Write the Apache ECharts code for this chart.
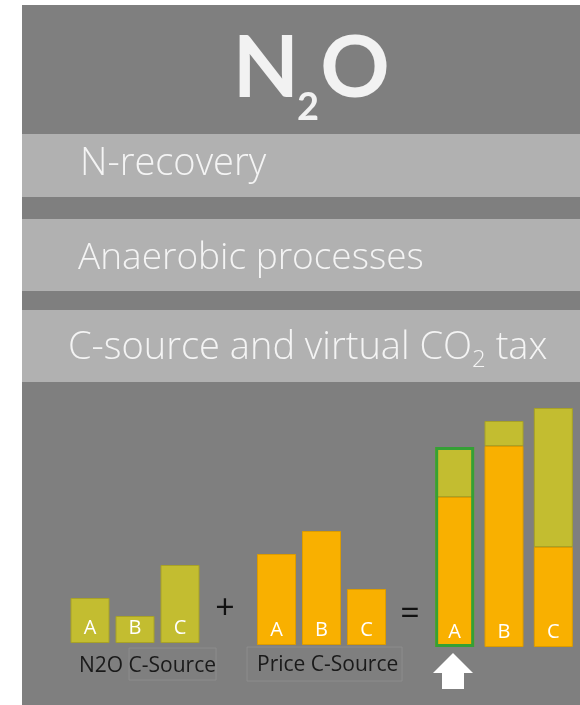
<!DOCTYPE html>
<html><head><meta charset="utf-8">
<script src="https://cdn.jsdelivr.net/npm/echarts@6/dist/echarts.min.js"></script>
<style>html,body{margin:0;padding:0;background:#fff}#c{width:580px;height:705px}</style>
</head><body><div id="c"></div>
<script>
// ---- data ----
var categories = ['A', 'B', 'C'];
var n2oCSource = [45, 27, 78];          // N2O C-Source
var priceCSource = [91, 114, 56];       // Price C-Source
var totalPricePart = [150, 201, 100];   // combined: price component
var totalN2OPart = [50, 25, 139];       // combined: N2O component
var bands = ['N-recovery', 'Anaerobic processes', 'C-source and virtual CO'];
var captions = ['N2O C-Source', 'Price C-Source'];
var highlighted = 0; // index of chosen option (A)

var OLIVE = '#c3bd30', OLIVE_B = '#a8a226';
var ORANGE = '#f9b000', ORANGE_B = '#dc9c00';
var LIGHT = "'Open Sans', 'Lato', sans-serif";

var chart = echarts.init(document.getElementById('c'), null, {renderer: 'canvas'});

function mkGrid(left, width, bottom) {
  return {left: left, width: width, bottom: bottom, height: 300, containLabel: false};
}
function xA(i) { return {type: 'category', gridIndex: i, data: categories, show: false, boundaryGap: true}; }
function yA(i) { return {type: 'value', gridIndex: i, min: 0, max: 300, show: false, splitLine: {show: false}}; }
var barLabel = {show: true, position: 'insideBottom', distance: 5, formatter: '{b}', color: '#fff', fontSize: 20, fontFamily: LIGHT};

var totals = totalPricePart.map(function (v, i) { return v + totalN2OPart[i]; });
var outline = totals.map(function (v, i) { return i === highlighted ? v : '-'; });

var option = {
  backgroundColor: '#ffffff',
  animation: false,
  grid: [mkGrid(67.5, 135, 62), mkGrid(254, 135, 60), mkGrid(430, 148, 58)],
  xAxis: [xA(0), xA(1), xA(2)],
  yAxis: [yA(0), yA(1), yA(2)],
  graphic: [
    {type: 'rect', z: -10, shape: {x: 22, y: 5, width: 558, height: 700}, style: {fill: '#7f7f7f'}},
    {type: 'rect', z: -9, shape: {x: 22, y: 134, width: 558, height: 63}, style: {fill: '#b1b1b1'}},
    {type: 'rect', z: -9, shape: {x: 22, y: 219, width: 558, height: 72}, style: {fill: '#b1b1b1'}},
    {type: 'rect', z: -9, shape: {x: 22, y: 310, width: 558, height: 72}, style: {fill: '#b1b1b1'}},
    // title N2O
    {type: 'text', x: 266, y: 69, style: {text: 'N', fill: '#f2f2f2', font: 'bold 86px Lato, sans-serif', textAlign: 'center', textVerticalAlign: 'middle'}},
    {type: 'text', x: 308, y: 108, style: {text: '2', fill: '#f2f2f2', font: 'bold 38px Lato, sans-serif', textAlign: 'center', textVerticalAlign: 'middle'}},
    {type: 'text', x: 355, y: 69, style: {text: 'O', fill: '#f2f2f2', font: 'bold 86px Lato, sans-serif', textAlign: 'center', textVerticalAlign: 'middle'}},
    // band texts
    {type: 'text', x: 80, y: 164, style: {text: bands[0], fill: '#f4f4f4', font: '300 38px ' + LIGHT, textVerticalAlign: 'middle'}},
    {type: 'text', x: 78, y: 258, style: {text: bands[1], fill: '#f4f4f4', font: '300 37px ' + LIGHT, textVerticalAlign: 'middle'}},
    {type: 'text', x: 68, y: 348, style: {
      text: '{t|' + bands[2] + '}{s|2}{t| tax}', textVerticalAlign: 'middle',
      rich: {
        t: {fontSize: 38, fontWeight: 300, fontFamily: LIGHT, fill: '#f4f4f4', lineHeight: 48, verticalAlign: 'middle'},
        s: {fontSize: 24, fontWeight: 300, fontFamily: LIGHT, fill: '#f4f4f4', lineHeight: 24, padding: [16, 0, 0, 0], verticalAlign: 'bottom'}
      }}},
    // operators
    {type: 'text', x: 225, y: 609, style: {text: '+', fill: '#111', font: '34px ' + LIGHT, textAlign: 'center', textVerticalAlign: 'middle'}},
    {type: 'text', x: 410, y: 615, style: {text: '=', fill: '#111', font: '34px ' + LIGHT, textAlign: 'center', textVerticalAlign: 'middle'}},
    // caption boxes and captions
    {type: 'rect', shape: {x: 129, y: 648, width: 87, height: 32}, style: {fill: 'none', stroke: '#8d8d8d', lineWidth: 1}},
    {type: 'rect', shape: {x: 247, y: 647, width: 155, height: 34}, style: {fill: 'none', stroke: '#8d8d8d', lineWidth: 1}},
    {type: 'text', x: 79, y: 666, style: {text: captions[0], fill: '#1a1a1a', font: '21px ' + LIGHT, textVerticalAlign: 'middle'}},
    {type: 'text', x: 257, y: 665, style: {text: captions[1], fill: '#1a1a1a', font: '21px ' + LIGHT, textVerticalAlign: 'middle'}},
    // arrow
    {type: 'polygon', shape: {points: [[453, 653], [473, 673], [464, 673], [464, 689], [442, 689], [442, 673], [433, 673]]}, style: {fill: '#ffffff'}}
  ],
  series: [
    {type: 'bar', name: 'N2O C-Source', xAxisIndex: 0, yAxisIndex: 0, data: n2oCSource, barWidth: 39,
      itemStyle: {color: OLIVE, borderColor: OLIVE_B, borderWidth: 1}, label: barLabel},
    {type: 'bar', name: 'Price C-Source', xAxisIndex: 1, yAxisIndex: 1, data: priceCSource, barWidth: 39,
      itemStyle: {color: ORANGE, borderColor: ORANGE_B, borderWidth: 1}, label: barLabel},
    {type: 'bar', name: 'Total price', xAxisIndex: 2, yAxisIndex: 2, data: totalPricePart, barWidth: 39, stack: 't', barGap: '-100%',
      itemStyle: {color: ORANGE, borderColor: ORANGE_B, borderWidth: 1}, label: barLabel},
    {type: 'bar', name: 'Total N2O', xAxisIndex: 2, yAxisIndex: 2, data: totalN2OPart, barWidth: 39, stack: 't', barGap: '-100%',
      itemStyle: {color: OLIVE, borderColor: OLIVE_B, borderWidth: 1}},
    {type: 'bar', name: 'Chosen', xAxisIndex: 2, yAxisIndex: 2, data: outline, barWidth: 39, barGap: '-100%', z: 5,
      itemStyle: {color: 'rgba(0,0,0,0)', borderColor: '#35a035', borderWidth: 3}}
  ]
};
chart.setOption(option);
</script>
</body></html>
